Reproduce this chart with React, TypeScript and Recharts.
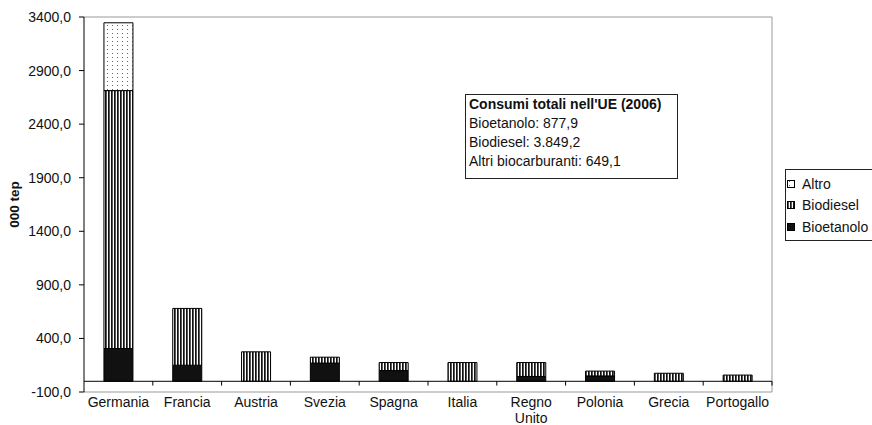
import { BarChart, Bar, XAxis, YAxis, ReferenceLine, Label, Text } from 'recharts';

// consumi di biocarburanti per paese, 000 tep (2006)
const countries = ['Germania', 'Francia', 'Austria', 'Svezia', 'Spagna', 'Italia', 'Regno Unito', 'Polonia', 'Grecia', 'Portogallo'];
const bioetanolo = [306, 150, 0, 170, 100, 0, 45, 50, 0, 0];
const biodiesel = [2407, 530, 275, 55, 75, 175, 130, 45, 75, 58];
const altro = [633, 0, 0, 0, 0, 0, 0, 0, 0, 0];

const yTicks = [-100, 400, 900, 1400, 1900, 2400, 2900, 3400];

const summaryTitle = "Consumi totali nell'UE (2006)";
const summaryLines = ['Bioetanolo: 877,9', 'Biodiesel: 3.849,2', 'Altri biocarburanti: 649,1'];

const legendItems = [
  { name: 'Altro', fill: 'url(#pat-altro)' },
  { name: 'Biodiesel', fill: 'url(#pat-biodiesel)' },
  { name: 'Bioetanolo', fill: '#111' },
];

const data = countries.map((name, i) => ({
  name,
  bioetanolo: bioetanolo[i],
  biodiesel: biodiesel[i],
  altro: altro[i],
}));

const FONT = '"Liberation Sans", Arial, sans-serif';

const fmt = (v: number) => v.toFixed(1).replace('.', ',');

function CategoryTick(props: any) {
  const { x, y, payload } = props;
  return (
    <Text
      x={x}
      y={y}
      width={66}
      textAnchor="middle"
      verticalAnchor="start"
      lineHeight={16}
      fontSize={14}
      fontFamily={FONT}
      fill="#111"
    >
      {payload.value}
    </Text>
  );
}

function Patterns() {
  return (
    <svg width={0} height={0} style={{ position: 'absolute' }}>
      <defs>
        <pattern id="pat-biodiesel" patternUnits="userSpaceOnUse" width={3} height={4}>
          <rect x={0} y={0} width={3} height={4} fill="#fff" />
          <rect x={0} y={0} width={1.7} height={4} fill="#111" />
        </pattern>
        <pattern id="pat-altro" patternUnits="userSpaceOnUse" width={5} height={4}>
          <rect x={0} y={0} width={5} height={4} fill="#fff" />
          <rect x={2} y={1} width={1} height={1} fill="#666" />
        </pattern>
      </defs>
    </svg>
  );
}

export default function App() {
  return (
    <div style={{ position: 'absolute', left: 0, top: 0, width: 872, height: 425, fontFamily: FONT, background: '#fff' }}>
      <Patterns />
      <BarChart
        width={872}
        height={425}
        data={data}
        margin={{ top: 17, right: 100, bottom: 0, left: 0 }}
        barCategoryGap="29%"
        style={{ overflow: 'visible' }}
      >
        <XAxis
          dataKey="name"
          height={33}
          axisLine={false}
          tickLine={false}
          tickSize={2}
          tickMargin={3}
          interval={0}
          tick={<CategoryTick />}
        />
        <YAxis
          width={84}
          domain={[-100, 3400]}
          ticks={yTicks}
          interval={0}
          tickFormatter={fmt}
          axisLine={{ stroke: '#000' }}
          tickLine={{ stroke: '#000' }}
          tickSize={5}
          tickMargin={8}
          tick={{ fontSize: 14, fill: '#111', fontFamily: FONT }}
        >
          <Label
            content={({ viewBox }: any) => {
              const cx = viewBox.x + 14;
              const cy = viewBox.y + viewBox.height / 2;
              return (
                <text
                  x={cx}
                  y={cy}
                  transform={`rotate(-90 ${cx} ${cy})`}
                  textAnchor="middle"
                  dominantBaseline="central"
                  fontSize={13.5}
                  fontWeight="bold"
                  fontFamily={FONT}
                  fill="#111"
                >
                  000 tep
                </text>
              );
            }}
          />
        </YAxis>
        {/* cornice dell'area del grafico */}
        <ReferenceLine y={3400} stroke="#999" />
        <ReferenceLine y={-100} stroke="#999" />
        <ReferenceLine x="Portogallo" position="end" stroke="#999" />
        <Bar dataKey="bioetanolo" stackId="a" fill="#111" stroke="#000" strokeWidth={1} isAnimationActive={false} />
        <Bar dataKey="biodiesel" stackId="a" fill="url(#pat-biodiesel)" stroke="#000" strokeWidth={1} isAnimationActive={false} />
        <Bar dataKey="altro" stackId="a" fill="url(#pat-altro)" stroke="#000" strokeWidth={1} isAnimationActive={false} />
        {/* asse delle categorie sullo zero */}
        <ReferenceLine y={0} stroke="#000" />
        {countries.slice(1).map((c) => (
          <ReferenceLine key={c} segment={[{ x: c, y: 0 }, { x: c, y: -40 }]} position="start" stroke="#000" />
        ))}
        <ReferenceLine
          segment={[{ x: countries[countries.length - 1], y: 0 }, { x: countries[countries.length - 1], y: -40 }]}
          position="end"
          stroke="#000"
        />
      </BarChart>

      <div
        style={{
          position: 'absolute',
          left: 465,
          top: 94,
          width: 213,
          height: 85,
          boxSizing: 'border-box',
          border: '1px solid #222',
          background: '#fff',
          padding: '0 3px',
          fontSize: 14,
          lineHeight: '19px',
          color: '#111',
        }}
      >
        <div style={{ fontWeight: 'bold' }}>{summaryTitle}</div>
        {summaryLines.map((l) => (
          <div key={l}>{l}</div>
        ))}
      </div>

      <div
        style={{
          position: 'absolute',
          left: 785,
          top: 169,
          width: 87,
          height: 72,
          boxSizing: 'border-box',
          border: '1px solid #222',
          borderRight: 'none',
          background: '#fff',
          paddingTop: 3,
          fontSize: 14,
          color: '#111',
        }}
      >
        {legendItems.map((it) => (
          <div key={it.name} style={{ display: 'flex', alignItems: 'center', height: 21.5 }}>
            <svg width={8} height={8} style={{ marginLeft: 1, marginRight: 7 }}>
              <rect x={0.5} y={0.5} width={7} height={7} fill={it.fill} stroke="#000" />
            </svg>
            <span>{it.name}</span>
          </div>
        ))}
      </div>
    </div>
  );
}
